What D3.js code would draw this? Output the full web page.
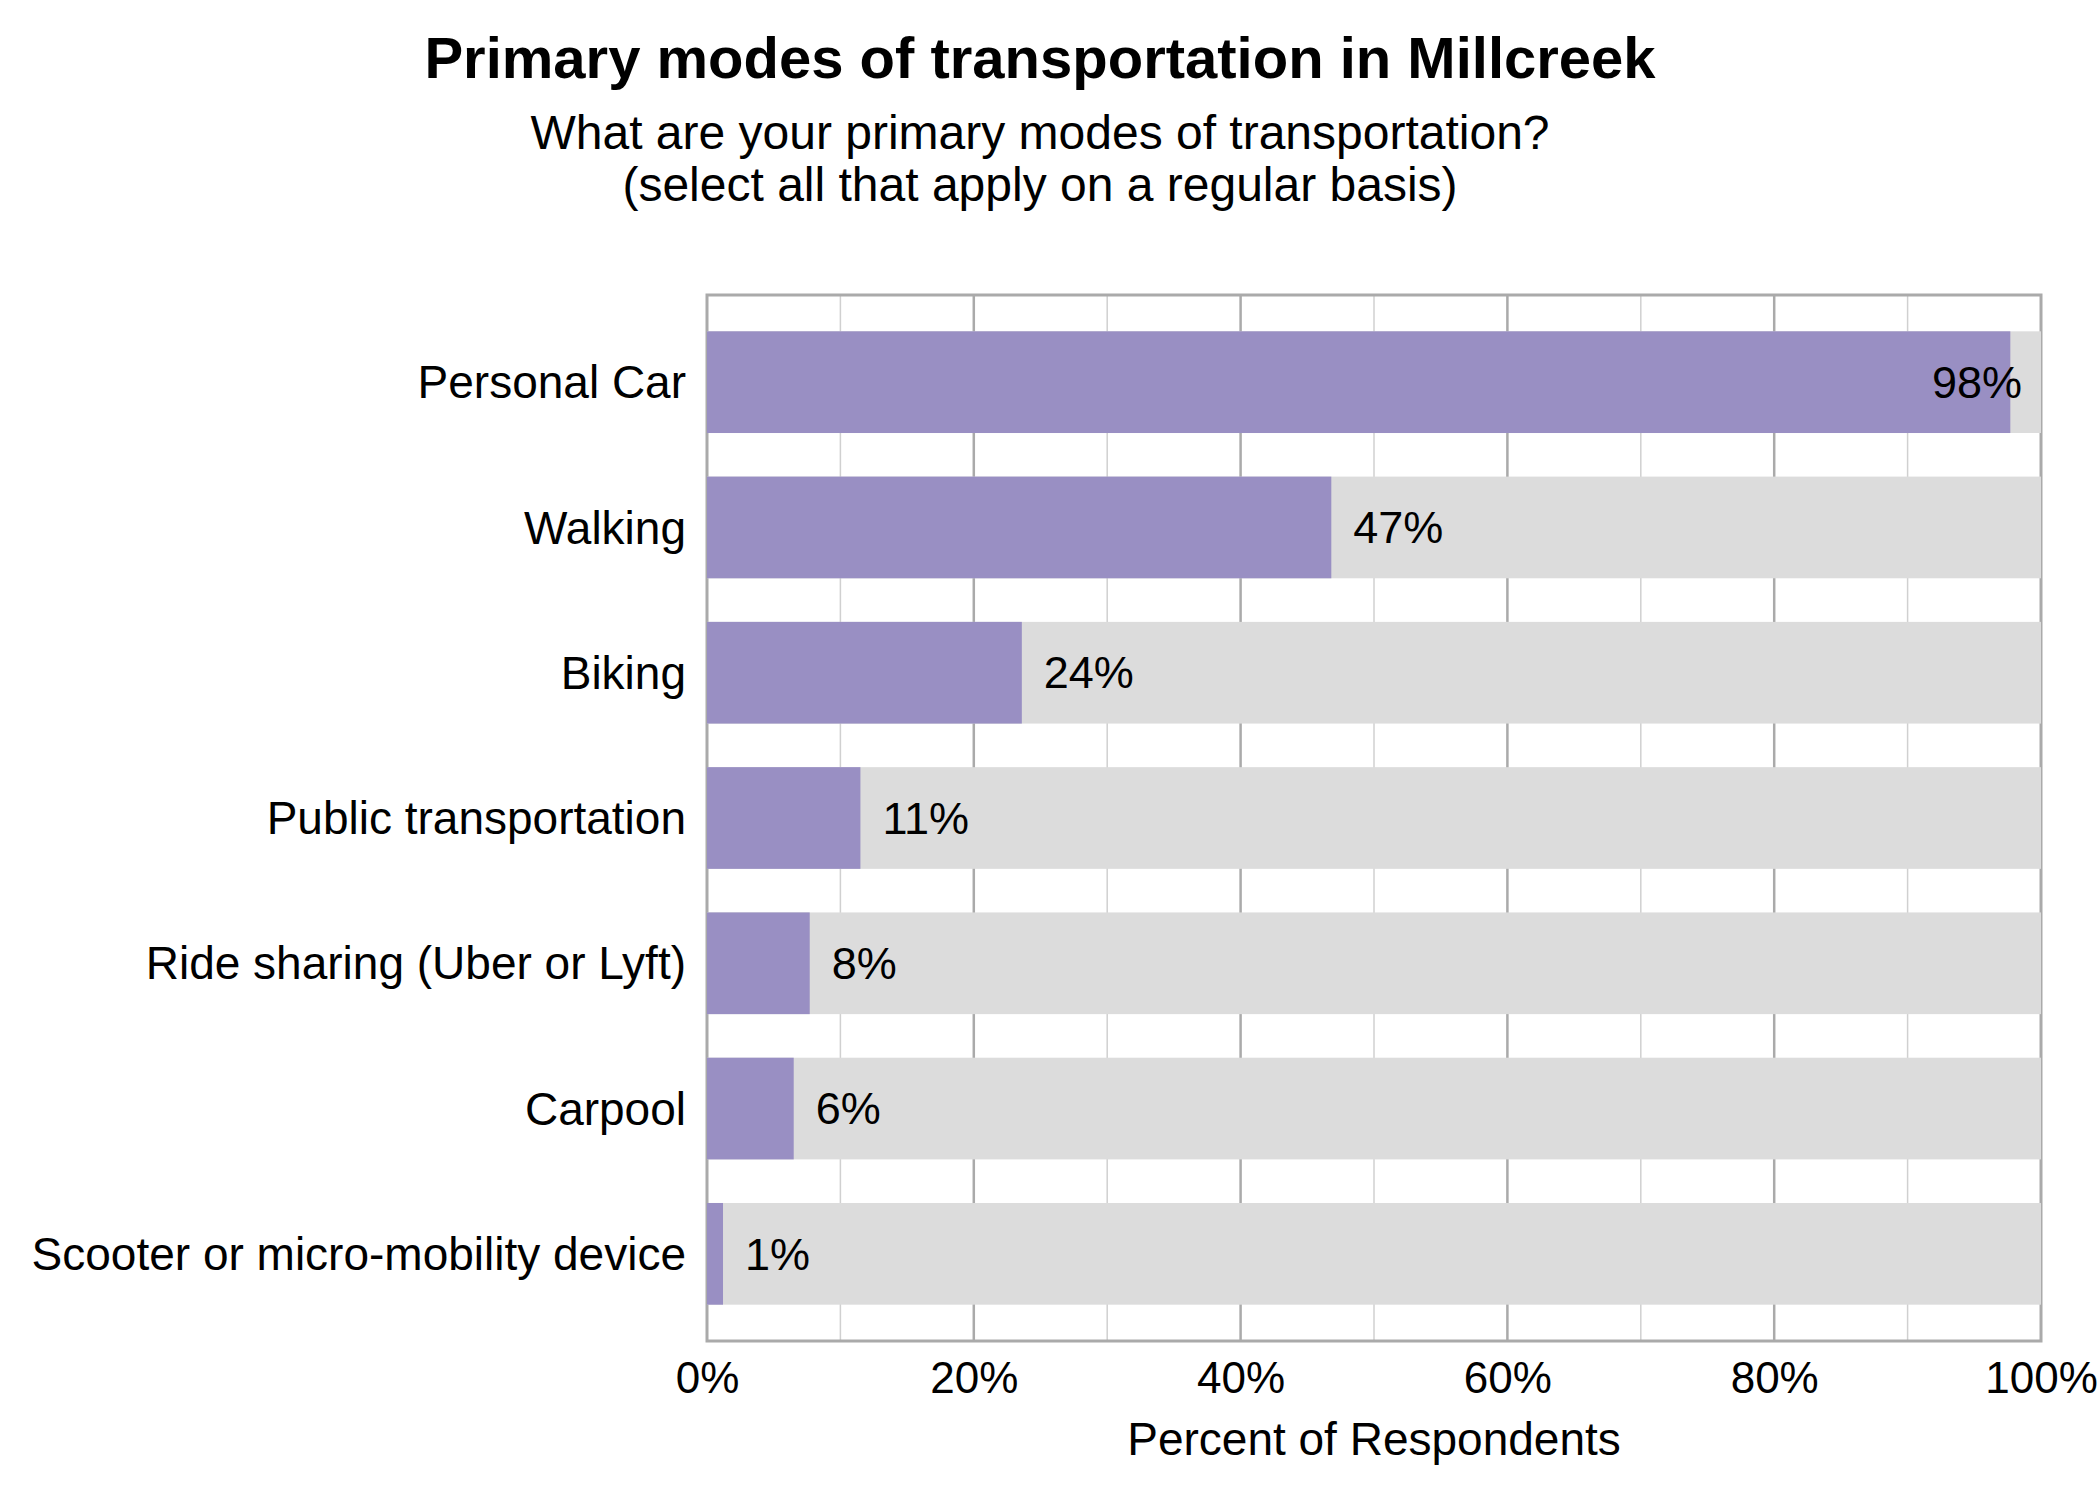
<!DOCTYPE html>
<html>
<head>
<meta charset="utf-8">
<script src="https://cdn.jsdelivr.net/npm/d3@7"></script>
<style>
  body { margin: 0; background: #fff; }
  svg { font-family: "Liberation Sans", Arial, sans-serif; }
</style>
</head>
<body>
<svg id="chart" width="2100" height="1500"></svg>
<script>
const categories = [
  "Personal Car",
  "Walking",
  "Biking",
  "Public transportation",
  "Ride sharing (Uber or Lyft)",
  "Carpool",
  "Scooter or micro-mobility device"
];
const values = [97.7, 46.8, 23.6, 11.5, 7.7, 6.5, 1.2];
const valueLabels = ["98%", "47%", "24%", "11%", "8%", "6%", "1%"];
const xTicks = [0, 20, 40, 60, 80, 100];

const W = 2100, H = 1500;
const margin = { top: 295, right: 59, bottom: 159, left: 707 };
const svg = d3.select("#chart");

const x = d3.scaleLinear().domain([0, 100]).range([margin.left, W - margin.right]);
const y = d3.scaleBand().domain(categories)
  .range([margin.top, H - margin.bottom])
  .paddingInner(0.3).paddingOuter(0.25);

// titles
svg.append("text").attr("x", 1040).attr("y", 78).attr("text-anchor", "middle")
  .style("font-size", "58px").style("font-weight", "bold")
  .text("Primary modes of transportation in Millcreek");
svg.append("text").attr("x", 1040).attr("y", 149).attr("text-anchor", "middle")
  .style("font-size", "48px").text("What are your primary modes of transportation?");
svg.append("text").attr("x", 1040).attr("y", 201).attr("text-anchor", "middle")
  .style("font-size", "48px").text("(select all that apply on a regular basis)");

// grid
const grid = svg.append("g");
grid.selectAll("line").data(d3.range(10, 100, 10)).join("line")
  .attr("x1", d => x(d)).attr("x2", d => x(d))
  .attr("y1", margin.top).attr("y2", H - margin.bottom)
  .attr("stroke", d => d % 20 === 0 ? "#aaaaaa" : "#d0d0d0")
  .attr("stroke-width", d => d % 20 === 0 ? 2.5 : 1.5);

// frame
svg.append("rect")
  .attr("x", margin.left).attr("y", margin.top)
  .attr("width", x(100) - x(0)).attr("height", H - margin.bottom - margin.top)
  .attr("fill", "none").attr("stroke", "#aaaaaa").attr("stroke-width", 3);

// bars: background to 100% then value
const rows = categories.map((c, i) => ({ cat: c, v: values[i], lab: valueLabels[i] }));
svg.append("g").selectAll("rect").data(rows).join("rect")
  .attr("x", x(0)).attr("y", d => y(d.cat))
  .attr("width", x(100) - x(0)).attr("height", y.bandwidth())
  .attr("fill", "#dcdcdc");
svg.append("g").selectAll("rect").data(rows).join("rect")
  .attr("x", x(0)).attr("y", d => y(d.cat))
  .attr("width", d => x(d.v) - x(0)).attr("height", y.bandwidth())
  .attr("fill", "#998fc3");

// value labels
svg.append("g").selectAll("text").data(rows).join("text")
  .attr("x", d => d.v > 90 ? x(100) - 19 : x(d.v) + 22)
  .attr("y", d => y(d.cat) + y.bandwidth() / 2)
  .attr("dy", "0.35em")
  .attr("text-anchor", d => d.v > 90 ? "end" : "start")
  .style("font-size", "45px").text(d => d.lab);

// category labels
svg.append("g").selectAll("text").data(categories).join("text")
  .attr("x", 686).attr("y", d => y(d) + y.bandwidth() / 2)
  .attr("dy", "0.35em").attr("text-anchor", "end")
  .style("font-size", "46px").text(d => d);

// x axis
const xAxis = svg.append("g")
  .attr("transform", `translate(0,${H - margin.bottom})`)
  .call(d3.axisBottom(x).tickValues(xTicks).tickSize(0).tickPadding(0).tickFormat(d => d + "%"));
xAxis.select(".domain").remove();
xAxis.selectAll("text").attr("y", 52).attr("dy", 0)
  .style("font-size", "44px").style("font-family", "'Liberation Sans', Arial, sans-serif").attr("fill", "#000");

svg.append("text").attr("x", (x(0) + x(100)) / 2).attr("y", 1455).attr("text-anchor", "middle")
  .style("font-size", "46px").text("Percent of Respondents");
</script>
</body>
</html>
